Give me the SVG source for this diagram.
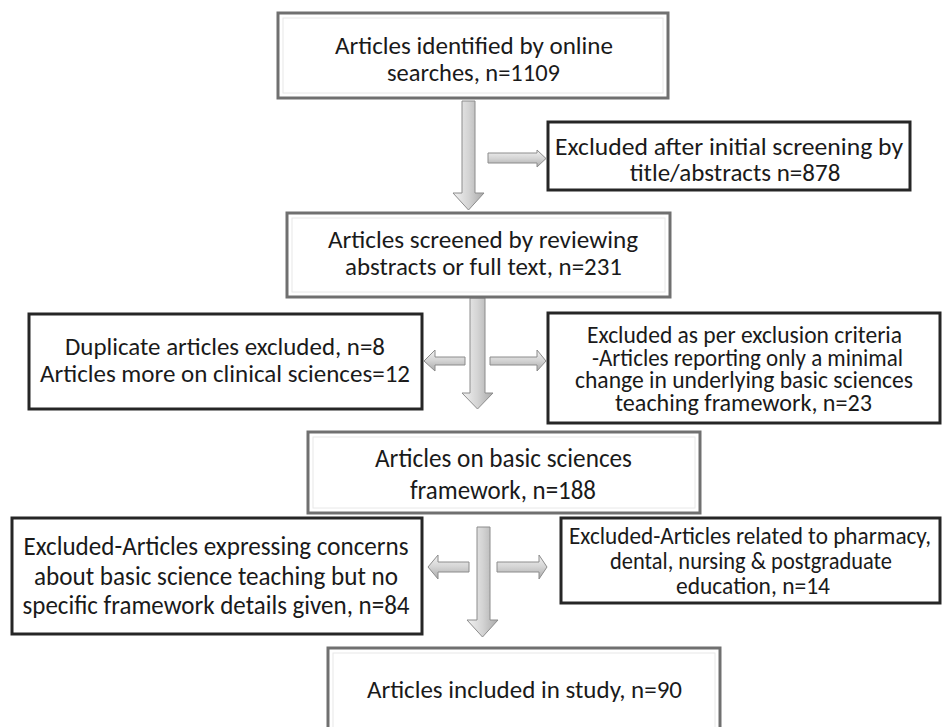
<svg xmlns="http://www.w3.org/2000/svg" width="942" height="727" viewBox="0 0 942 727">
<defs>
<linearGradient id="gv" x1="0" y1="0" x2="1" y2="0">
<stop offset="0" stop-color="#f2f2f2"/><stop offset="0.5" stop-color="#d4d4d4"/><stop offset="1" stop-color="#a9a9a9"/>
</linearGradient>
<linearGradient id="gh" x1="0" y1="0" x2="0" y2="1">
<stop offset="0" stop-color="#f2f2f2"/><stop offset="0.5" stop-color="#d4d4d4"/><stop offset="1" stop-color="#a9a9a9"/>
</linearGradient>
<style>
.main{fill:#fff;stroke:#707070;stroke-width:3}
.inner{fill:none;stroke:#e8e8e8;stroke-width:1}
.excl{fill:#fff;stroke:#262626;stroke-width:3}
.av{fill:url(#gv);stroke:#8c8c8c;stroke-width:1}
.ah{fill:url(#gh);stroke:#8c8c8c;stroke-width:1}
text{font-family:"Carlito","Lato","Liberation Sans",sans-serif;fill:#1a1a1a;text-anchor:middle}
.t{font-size:25px}
.s{font-size:23.5px}
.c{font-size:27px}
.d{font-size:25px}
</style>
</defs>
<rect width="942" height="727" fill="#fff"/>
<g id="connectors">
<polygon class="av" points="462,101 475,101 475,193 484,193 468.5,210 453,193 462,193"/>
<polygon class="ah" points="488,153 537,153 537,150 546,158.5 537,167 537,163 488,163"/>
<polygon class="av" points="470,298 485,298 485,393 493,393 477.5,409 462,393 470,393"/>
<polygon class="ah" points="465,357 435,357 435,350 424,361 435,371 435,365 465,365"/>
<polygon class="ah" points="490,357 537,357 537,350 546,361 537,371 537,365 490,365"/>
<polygon class="av" points="477,527 490,527 490,620 498,620 482.5,637 467,620 477,620"/>
<polygon class="ah" points="469,562 438,562 438,555 428,567 438,579 438,572 469,572"/>
<polygon class="ah" points="497,562 539,562 539,555 547,567 539,579 539,572 497,572"/>
</g>
<g id="n1">
<rect class="main" x="278" y="13" width="390" height="85"/>
<rect class="inner" x="283" y="18" width="380" height="75"/>
<text class="t" x="474" y="54" textLength="278" lengthAdjust="spacingAndGlyphs">Articles identified by online</text>
<text class="t" x="473.5" y="81" textLength="173" lengthAdjust="spacingAndGlyphs">searches, n=1109</text>
</g>
<g id="n2">
<rect class="excl" x="548" y="122" width="362" height="68"/>
<text class="t" x="729" y="155" textLength="348" lengthAdjust="spacingAndGlyphs">Excluded after initial screening by</text>
<text class="t" x="735" y="181">title/abstracts n=878</text>
</g>
<g id="n3">
<rect class="main" x="287" y="213" width="383" height="84"/>
<rect class="inner" x="292" y="218" width="373" height="74"/>
<text class="t" x="483" y="248" textLength="310" lengthAdjust="spacingAndGlyphs">Articles screened by reviewing</text>
<text class="t" x="483.5" y="275" textLength="277" lengthAdjust="spacingAndGlyphs">abstracts or full text, n=231</text>
</g>
<g id="n4">
<rect class="excl" x="29" y="314" width="393" height="95"/>
<text class="t" x="225" y="355" textLength="320" lengthAdjust="spacingAndGlyphs">Duplicate articles excluded, n=8</text>
<text class="t" x="225" y="382" textLength="370" lengthAdjust="spacingAndGlyphs">Articles more on clinical sciences=12</text>
</g>
<g id="n5">
<rect class="excl" x="548" y="313" width="392" height="110"/>
<text class="s" x="744.5" y="343" textLength="315" lengthAdjust="spacingAndGlyphs">Excluded as per exclusion criteria</text>
<text class="s" x="747.5" y="365.5" textLength="311" lengthAdjust="spacingAndGlyphs">-Articles reporting only a minimal</text>
<text class="s" x="744" y="388" textLength="338" lengthAdjust="spacingAndGlyphs">change in underlying basic sciences</text>
<text class="s" x="743.5" y="410.5" textLength="257" lengthAdjust="spacingAndGlyphs">teaching  framework, n=23</text>
</g>
<g id="n6">
<rect class="main" x="308" y="432" width="392" height="81"/>
<rect class="inner" x="313" y="437" width="382" height="71"/>
<text class="c" x="503.5" y="467" textLength="257" lengthAdjust="spacingAndGlyphs">Articles on basic sciences</text>
<text class="c" x="503" y="499" textLength="186" lengthAdjust="spacingAndGlyphs">framework, n=188</text>
</g>
<g id="n7">
<rect class="excl" x="12" y="518" width="410" height="116"/>
<text class="c" x="216" y="555" textLength="385" lengthAdjust="spacingAndGlyphs">Excluded-Articles expressing concerns</text>
<text class="c" x="216" y="585" textLength="364" lengthAdjust="spacingAndGlyphs">about basic science teaching but no</text>
<text class="c" x="216" y="614" textLength="387" lengthAdjust="spacingAndGlyphs">specific framework details given, n=84</text>
</g>
<g id="n8">
<rect class="excl" x="561" y="518" width="379" height="85"/>
<text class="d" x="750" y="544" textLength="362" lengthAdjust="spacingAndGlyphs">Excluded-Articles related to pharmacy,</text>
<text class="d" x="751" y="569" textLength="282" lengthAdjust="spacingAndGlyphs">dental, nursing &amp; postgraduate</text>
<text class="d" x="753" y="594" textLength="154" lengthAdjust="spacingAndGlyphs">education, n=14</text>
</g>
<g id="n9">
<rect class="main" x="328" y="648" width="392" height="95"/>
<rect class="inner" x="333" y="653" width="382" height="85"/>
<text class="t" x="524.5" y="698" textLength="315" lengthAdjust="spacingAndGlyphs">Articles included in study, n=90</text>
</g>
</svg>
